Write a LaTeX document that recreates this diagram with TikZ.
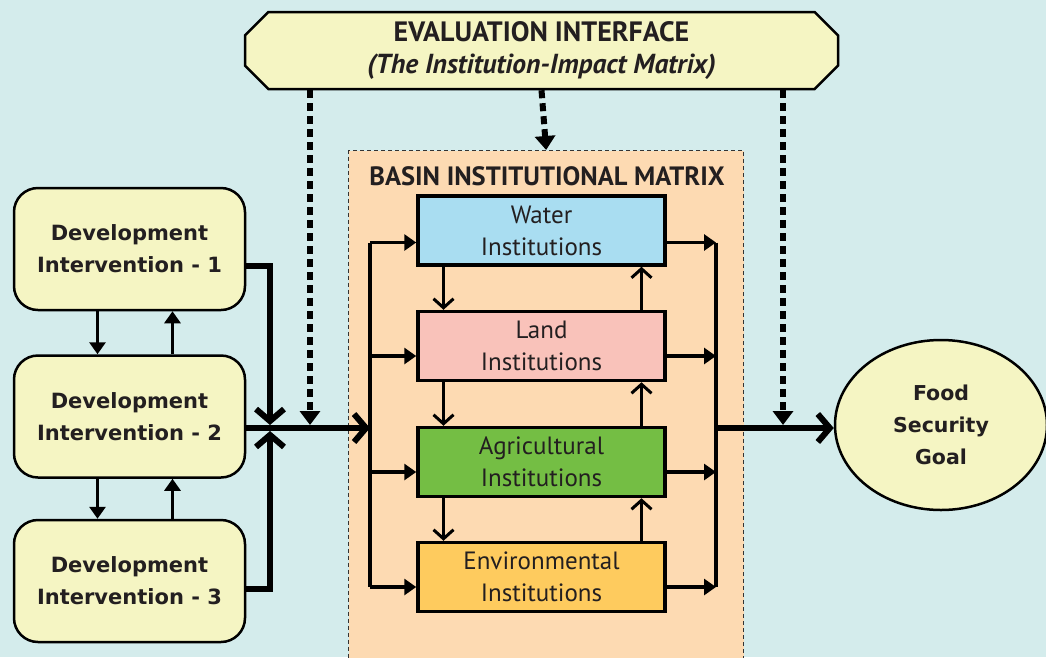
\documentclass[tikz,border=0pt]{standalone}
\usepackage{fontspec}
\setmainfont{PT Sans}
\newfontfamily\verdfont{DejaVu Sans}
\usetikzlibrary{arrows.meta,shapes.misc,shapes.geometric,calc}
\definecolor{bgcyan}{RGB}{212, 236, 236}
\definecolor{devyellow}{RGB}{245, 245, 195}
\definecolor{basinorange}{RGB}{253, 218, 178}
\definecolor{waterblue}{RGB}{169, 221, 241}
\definecolor{landpink}{RGB}{249, 194, 186}
\definecolor{agrigreen}{RGB}{116, 190, 68}
\definecolor{envyellow}{RGB}{254, 203, 94}
\definecolor{inkdark}{RGB}{35, 31, 32}

\tikzset{
  devbox/.style={draw=black, line width=2.5pt, fill=devyellow, rounded corners=24pt,
    minimum width=231pt, minimum height=122pt, align=center, text=inkdark,
    font=\verdfont\bfseries\fontsize{21}{32}\selectfont},
  instbox/.style={draw=black, line width=3.5pt, minimum width=247pt, minimum height=69pt,
    align=center, text=inkdark, font=\fontsize{25}{32}\selectfont},
  mainline/.style={line width=6pt},
  bus/.style={line width=3.5pt},
  link/.style={line width=3pt},
  chev/.style={-{Straight Barb[length=12pt,width=28pt]}},
  chevsmall/.style={-{Straight Barb[length=9pt,width=20pt]}},
  tri/.style={-{Triangle[length=12pt,width=16pt]}},
  dotarrow/.style={line width=6pt, dash pattern=on 8pt off 5pt, -{Triangle[length=14pt,width=20pt]}}
}

\begin{document}
\begin{tikzpicture}[x=1pt, y=-1pt]
\useasboundingbox[fill=bgcyan] (0,0) rectangle (1046,657);

% Basin institutional matrix (background)
\node[draw=black!80, line width=1.3pt, dash pattern=on 4pt off 3pt, fill=basinorange,
  minimum width=395pt, minimum height=520pt, anchor=north west, inner sep=0pt]
  (basin) at (348,150) {};
\node[font=\bfseries\fontsize{26.5}{30}\selectfont, text=inkdark] (basintitle) at (547,176)
  {BASIN INSTITUTIONAL MATRIX};

% Evaluation interface
\node[chamfered rectangle, chamfered rectangle xsep=20pt, draw=black, line width=2.5pt,
  fill=devyellow, minimum width=593pt, minimum height=77pt, align=center, text=inkdark,
  font=\bfseries\fontsize{28}{32}\selectfont] (evalif) at (541.5,50.5)
  {EVALUATION INTERFACE\\{\itshape\fontsize{27.5}{32}\selectfont(The Institution-Impact Matrix)}};

% Development interventions
\node[devbox] (devone) at (129.5,249) {Development\\Intervention - 1};
\node[devbox] (devtwo) at (129.5,416.5) {Development\\Intervention - 2};
\node[devbox] (devthree) at (129.5,581) {Development\\Intervention - 3};

% Institutions
\node[instbox, fill=waterblue] (water) at (541.5,230.5) {Water\\Institutions};
\node[instbox, fill=landpink] (land) at (541.5,346) {Land\\Institutions};
\node[instbox, fill=agrigreen] (agri) at (541.5,462) {Agricultural\\Institutions};
\node[instbox, fill=envyellow] (env) at (541.5,577) {Environmental\\Institutions};

% Goal
\node[ellipse, draw=black, line width=2.5pt, fill=devyellow, minimum width=212pt,
  minimum height=170pt, align=center, text=inkdark,
  font=\verdfont\bfseries\fontsize{20.5}{32}\selectfont] (food) at (941,425)
  {Food\\Security\\Goal};

% junction points
\coordinate (jn) at (270,428);
\coordinate (lbus) at (370,428);
\coordinate (rbus) at (716,428);
\coordinate (dl) at (310,428);
\coordinate (dr) at (783,428);

% interventions to matrix
\draw[link, tri] ([xshift=-32pt]devone.south) -- ([xshift=-32pt]devtwo.north);
\draw[link, tri] ([xshift=43pt]devtwo.north) -- ([xshift=43pt]devone.south);
\draw[link, tri] ([xshift=-32pt]devtwo.south) -- ([xshift=-32pt]devthree.north);
\draw[link, tri] ([xshift=43pt]devthree.north) -- ([xshift=43pt]devtwo.south);
\draw[mainline, chev] ([yshift=-17pt]devone.east) -| ([yshift=3pt]jn);
\draw[mainline, chev] ([yshift=-8pt]devthree.east) -| ([yshift=-3pt]jn);
\draw[mainline, chev] (devtwo.east |- jn) -- (lbus);

% evaluation links
\draw[dotarrow] (dl |- evalif.south) -- ([yshift=3pt]dl);
\draw[dotarrow] (evalif.south) -- (basin.north);
\draw[dotarrow] (dr |- evalif.south) -- ([yshift=3pt]dr);

% buses inside the matrix
\draw[bus] ([yshift=-12pt]water.west -| lbus) -- ([yshift=-10pt]env.west -| lbus);
\draw[bus] ([yshift=-12pt]water.east -| rbus) -- ([yshift=-10pt]env.east -| rbus);
\foreach \b/\s in {water/-12pt, land/-10pt, agri/-10pt, env/-10pt} {
  \draw[bus, tri] ([yshift=\s]\b.west -| lbus) -- ([yshift=\s]\b.west);
  \draw[bus, tri] ([yshift=\s]\b.east) -- ([yshift=\s]\b.east -| rbus);
}
\foreach \a/\b in {water/land, land/agri, agri/env} {
  \draw[link, chevsmall] ([xshift=-98pt]\a.south) -- ([xshift=-98pt]\b.north);
  \draw[link, chevsmall] ([xshift=100pt]\b.north) -- ([xshift=100pt]\a.south);
}

% matrix to goal
\draw[mainline, chev] (rbus) -- (rbus -| food.west);
\end{tikzpicture}
\end{document}
